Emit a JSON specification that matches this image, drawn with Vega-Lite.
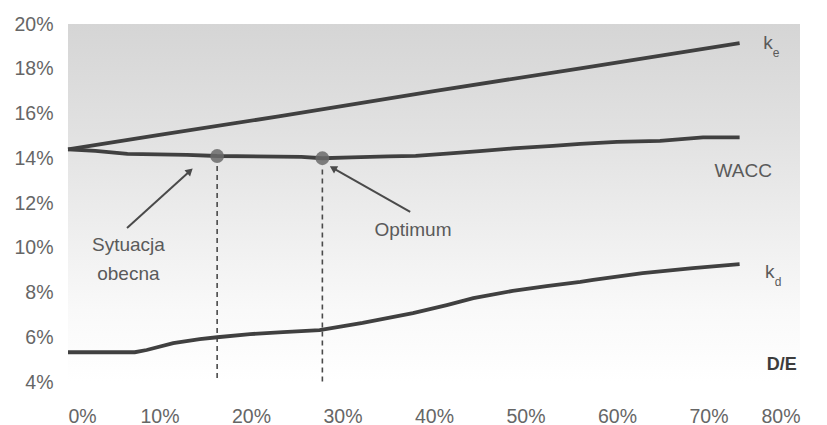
{
  "$schema": "https://vega.github.io/schema/vega-lite/v6.json",
  "width": 732,
  "height": 358,
  "autosize": {"type": "none"},
  "padding": {"left": 68, "top": 24, "right": 27, "bottom": 43},
  "background": "#ffffff",
  "config": {
    "view": {
      "stroke": null,
      "fill": {
        "gradient": "linear",
        "x1": 0, "y1": 0, "x2": 0, "y2": 1,
        "stops": [
          {"offset": 0, "color": "#d5d5d5"},
          {"offset": 0.3, "color": "#e1e1e1"},
          {"offset": 0.55, "color": "#ededed"},
          {"offset": 0.8, "color": "#f9f9f9"},
          {"offset": 1, "color": "#ffffff"}
        ]
      }
    },
    "axis": {
      "domain": false,
      "ticks": false,
      "grid": false,
      "labelFont": "Liberation Sans",
      "labelFontSize": 19.5,
      "labelColor": "#666666",
      "title": null
    },
    "text": {"font": "Liberation Sans", "fontSize": 19, "fill": "#5a5a5a"}
  },
  "datasets": {
    "curves": [
      {"series": "ke", "de": 0, "r": 14.4},
      {"series": "ke", "de": 10, "r": 15.05},
      {"series": "ke", "de": 23.2, "r": 15.88},
      {"series": "ke", "de": 40, "r": 17.0},
      {"series": "ke", "de": 56, "r": 18.02},
      {"series": "ke", "de": 73.4, "r": 19.15},
      {"series": "wacc", "de": 0, "r": 14.4},
      {"series": "wacc", "de": 3, "r": 14.33},
      {"series": "wacc", "de": 6.5, "r": 14.2},
      {"series": "wacc", "de": 13, "r": 14.15},
      {"series": "wacc", "de": 16.3, "r": 14.1},
      {"series": "wacc", "de": 25.5, "r": 14.06},
      {"series": "wacc", "de": 27.8, "r": 14.0},
      {"series": "wacc", "de": 31, "r": 14.04},
      {"series": "wacc", "de": 35, "r": 14.08},
      {"series": "wacc", "de": 38, "r": 14.11},
      {"series": "wacc", "de": 41.4, "r": 14.21},
      {"series": "wacc", "de": 45, "r": 14.32},
      {"series": "wacc", "de": 48.6, "r": 14.44},
      {"series": "wacc", "de": 53, "r": 14.55},
      {"series": "wacc", "de": 56, "r": 14.64},
      {"series": "wacc", "de": 60, "r": 14.73},
      {"series": "wacc", "de": 64.7, "r": 14.78},
      {"series": "wacc", "de": 69.4, "r": 14.93},
      {"series": "wacc", "de": 73.4, "r": 14.93},
      {"series": "kd", "de": 0, "r": 5.33},
      {"series": "kd", "de": 7.3, "r": 5.33},
      {"series": "kd", "de": 8.6, "r": 5.43},
      {"series": "kd", "de": 11.5, "r": 5.74},
      {"series": "kd", "de": 14.4, "r": 5.92},
      {"series": "kd", "de": 16.3, "r": 6.0},
      {"series": "kd", "de": 19.9, "r": 6.14},
      {"series": "kd", "de": 23.5, "r": 6.23},
      {"series": "kd", "de": 27.5, "r": 6.32},
      {"series": "kd", "de": 32.2, "r": 6.64},
      {"series": "kd", "de": 37.7, "r": 7.08},
      {"series": "kd", "de": 41.4, "r": 7.44},
      {"series": "kd", "de": 44.3, "r": 7.75},
      {"series": "kd", "de": 48.6, "r": 8.07},
      {"series": "kd", "de": 52.3, "r": 8.29},
      {"series": "kd", "de": 56, "r": 8.47},
      {"series": "kd", "de": 57.4, "r": 8.56},
      {"series": "kd", "de": 62.8, "r": 8.87},
      {"series": "kd", "de": 68.3, "r": 9.09},
      {"series": "kd", "de": 73.4, "r": 9.27}
    ],
    "marked": [
      {"name": "Sytuacja obecna", "de": 16.3, "r": 14.1, "top": 13.65, "bottom": 4.0},
      {"name": "Optimum", "de": 27.8, "r": 14.0, "top": 13.5, "bottom": 3.87}
    ],
    "arrows": [
      {"name": "Sytuacja obecna", "x0": 6.45, "y0": 10.88, "x1": 13.33, "y1": 13.43, "dir": 48},
      {"name": "Optimum", "x0": 37.4, "y0": 11.6, "x1": 28.96, "y1": 13.56, "dir": 300}
    ],
    "notes": [
      {"text": "Sytuacja", "de": 6.6, "r": 10.12},
      {"text": "obecna", "de": 6.6, "r": 8.83},
      {"text": "Optimum", "de": 37.7, "r": 10.8},
      {"text": "WACC", "de": 73.8, "r": 13.43}
    ],
    "symbols": [
      {"text": "k", "de": 76.5, "r": 19.15},
      {"text": "k", "de": 76.7, "r": 8.9}
    ],
    "subscripts": [
      {"text": "e", "de": 77.4, "r": 18.72},
      {"text": "d", "de": 77.6, "r": 8.47}
    ],
    "axisTitle": [
      {"text": "D/E", "de": 78.0, "r": 4.76}
    ]
  },
  "encoding": {
    "x": {
      "field": "de",
      "type": "quantitative",
      "scale": {"domain": [0, 80], "nice": false},
      "axis": {
        "values": [0, 10, 20, 30, 40, 50, 60, 70, 80],
        "labelExpr": "datum.value + '%'",
        "labelPadding": 25
      }
    },
    "y": {
      "field": "r",
      "type": "quantitative",
      "scale": {"domain": [4, 20], "nice": false, "zero": false},
      "axis": {
        "values": [4, 6, 8, 10, 12, 14, 16, 18, 20],
        "labelExpr": "datum.value + '%'",
        "labelPadding": 15
      }
    }
  },
  "layer": [
    {
      "data": {"name": "marked"},
      "mark": {"type": "rule", "strokeDash": [5, 4], "strokeWidth": 1.6, "color": "#4a4a4a"},
      "encoding": {
        "y": {"field": "top", "type": "quantitative"},
        "y2": {"field": "bottom"}
      }
    },
    {
      "data": {"name": "curves"},
      "mark": {"type": "line", "strokeWidth": 3.8, "color": "#404040", "interpolate": "linear"},
      "encoding": {
        "detail": {"field": "series", "type": "nominal"}
      }
    },
    {
      "data": {"name": "marked"},
      "mark": {"type": "point", "shape": "circle", "filled": true, "size": 190, "color": "#6a6a6a", "opacity": 0.85},
      "encoding": {}
    },
    {
      "data": {"name": "arrows"},
      "mark": {"type": "rule", "strokeWidth": 2, "color": "#4a4a4a"},
      "encoding": {
        "x": {"field": "x0", "type": "quantitative"},
        "y": {"field": "y0", "type": "quantitative"},
        "x2": {"field": "x1"},
        "y2": {"field": "y1"}
      }
    },
    {
      "data": {"name": "arrows"},
      "mark": {"type": "point", "shape": "triangle-up", "filled": true, "size": 70, "color": "#4a4a4a", "opacity": 1},
      "encoding": {
        "x": {"field": "x1", "type": "quantitative"},
        "y": {"field": "y1", "type": "quantitative"},
        "angle": {"field": "dir", "type": "quantitative", "scale": null}
      }
    },
    {
      "data": {"name": "notes"},
      "mark": {"type": "text", "align": "center", "baseline": "middle"},
      "encoding": {"text": {"field": "text"}}
    },
    {
      "data": {"name": "symbols"},
      "mark": {"type": "text", "align": "center", "baseline": "middle", "fontSize": 19},
      "encoding": {"text": {"field": "text"}}
    },
    {
      "data": {"name": "subscripts"},
      "mark": {"type": "text", "align": "center", "baseline": "middle", "fontSize": 12},
      "encoding": {"text": {"field": "text"}}
    },
    {
      "data": {"name": "axisTitle"},
      "mark": {"type": "text", "align": "center", "baseline": "middle", "fontWeight": "bold", "fontSize": 18, "fill": "#3c3c3c"},
      "encoding": {"text": {"field": "text"}}
    }
  ]
}
